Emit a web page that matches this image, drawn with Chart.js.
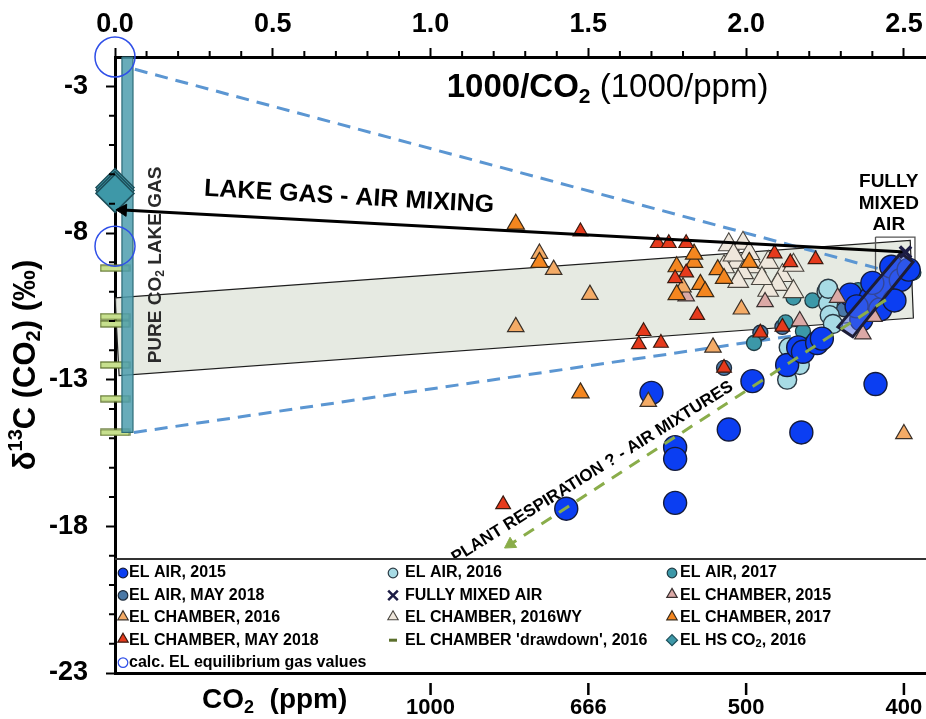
<!DOCTYPE html>
<html><head><meta charset="utf-8">
<script src="https://cdn.jsdelivr.net/npm/chart.js@4.4.1/dist/chart.umd.min.js"></script>
<style>html,body{margin:0;padding:0;background:#fff;}canvas{display:block;}</style>
</head><body>
<canvas id="c" width="926" height="719"></canvas>
<script>
// ---------- tick values / labels ----------
const topTickValues = [0, 0.5, 1.0, 1.5, 2.0, 2.5];
const ppmTickValues = [1.0, 1.5, 2.0, 2.5];
const ppmTickLabels = ['1000', '666', '500', '400'];
const yTickValues = [-23, -18, -13, -8, -3];

// ---------- series (x = 1000/CO2, y = d13C) ----------
const elAir2015 = [[1.43,-17.4],[1.70,-13.45],[1.775,-15.3],[1.775,-15.7],[1.775,-17.2],[2.02,-13.05],[1.945,-14.7],[2.175,-14.8],[2.41,-13.15],[2.13,-12.5],[2.165,-11.9],[2.18,-12.05],[2.225,-11.75],[2.24,-11.6],[2.33,-10.1],[2.365,-10.95],[2.395,-10.2],[2.425,-10.6],[2.435,-9.85],[2.46,-9.15],[2.49,-9.6],[2.47,-10.3],[2.515,-9.25],[2.40,-9.7],[2.35,-10.5]];
const elAir2016 = [[2.13,-13.0],[2.17,-12.5],[2.135,-11.9],[2.255,-10.0],[2.26,-10.4],[2.265,-10.8],[2.275,-11.1],[2.26,-9.9]];
const elAir2017 = [[2.15,-10.2],[2.21,-10.3],[2.355,-9.95],[2.53,-9.35],[2.025,-11.75],[2.125,-11.05],[2.18,-11.35]];
const elAirMay2018 = [[1.93,-12.6],[2.045,-11.4],[2.115,-11.2],[2.31,-10.6],[2.42,-10.1]];
const fullyMixedAir = [[2.505,-8.65]];
const elChamber2015 = [[2.06,-10.35],[2.29,-10.2],[2.17,-11.0],[2.37,-11.45],[2.405,-10.85],[1.81,-10.15]];
const elChamber2016 = [[1.27,-11.2],[1.345,-8.7],[1.39,-9.25],[1.505,-10.1],[1.69,-13.75],[1.895,-11.9],[2.5,-14.85],[1.985,-10.6],[1.80,-9.85]];
const elChamber2016WY = [[1.945,-8.4],[1.99,-8.35],[1.97,-9.0],[2.03,-9.15],[1.99,-9.35],[2.07,-9.0],[2.115,-9.45],[2.15,-9.1],[2.10,-9.75],[2.07,-9.95],[2.15,-10.0],[1.93,-9.15],[1.975,-9.65],[2.01,-8.7],[2.05,-9.55],[1.96,-8.75]];
const elChamber2017 = [[1.27,-7.7],[1.345,-9.0],[1.475,-13.45],[1.78,-9.15],[1.835,-9.0],[1.78,-10.1],[1.855,-9.75],[1.91,-9.25],[1.93,-9.55],[2.01,-9.0],[1.835,-8.72],[1.87,-10.0]];
const elChamberMay2018 = [[1.475,-7.95],[1.23,-17.25],[1.72,-8.35],[1.755,-8.35],[1.81,-8.35],[1.81,-9.35],[1.775,-9.55],[1.845,-10.8],[1.675,-11.35],[1.66,-11.8],[1.73,-11.75],[2.045,-11.4],[2.09,-8.7],[2.14,-9.0],[2.22,-8.9],[2.115,-11.2],[1.93,-12.6]];
const elChamberDrawdown = [[0,-9.2],[0,-10.85],[0,-11.1],[0,-12.5],[0,-13.65],[0,-14.8]];
const elHsCo2 = [[0,-6.45],[0,-6.55],[0,-6.65]];
const calcEquilibrium = [[0,-2.0],[0,-8.45]];

// ---------- guide shapes (data units) ----------
const mixingBand = [[0,-10.21],[2.52,-8.25],[2.53,-10.9],[0.013,-12.86],[0,-10.21]];
const pureCo2Bar = [[0.022,-2.0],[0.057,-2.0],[0.057,-14.8],[0.022,-14.8],[0.022,-2.0]];
const upperDashed = [[0.063,-2.42],[2.46,-9.33]];
const lowerDashed = [[0.06,-14.8],[2.31,-11.25]];
const mixedAirBox = [[2.41,-8.14],[2.535,-8.14],[2.535,-9.5],[2.41,-9.5],[2.41,-8.14]];
const respirationBox = [[2.49,-8.68],[2.529,-8.99],[2.338,-11.54],[2.291,-11.2],[2.49,-8.68]];
const mixingArrow = [[2.505,-8.65],[0.025,-7.22]];
const respirationArrow = [[2.443,-10.28],[1.253,-18.61]];

// ---------- styles ----------
const FF = '"Liberation Sans", Arial, Helvetica, sans-serif';
const fnt = (s, b = true) => (b ? 'bold ' : '') + s + 'px ' + FF;
Chart.defaults.font.family = FF;
Chart.defaults.color = '#000';

const pts = a => a.map(p => ({x: p[0], y: p[1]}));

const ddImg = document.createElement('canvas');
ddImg.width = 31; ddImg.height = 8;
(function(){ const g = ddImg.getContext('2d'); g.fillStyle = '#c7e08e'; g.fillRect(1,1,29,6); g.strokeStyle = '#5b6f2c'; g.lineWidth = 1.2; g.strokeRect(1,1,29,6); })();

const S = {
  'EL AIR, 2015': {type:'circle', r:11.5, fill:'#0b3ef2', stroke:'#141b3a', lw:1.4, order:16},
  'EL AIR, 2016': {type:'circle', r:9.5, fill:'#a7dbe5', stroke:'#2b3a44', lw:1.4, order:17},
  'EL AIR, 2017': {type:'circle', r:7.5, fill:'#3c98a8', stroke:'#1f3c44', lw:1.3, order:18},
  'EL AIR, MAY 2018': {type:'circle', r:7.5, fill:'#4a78a6', stroke:'#1f2c3c', lw:1.3, order:19},
  'FULLY MIXED AIR': {type:'crossRot', r:8, fill:'#1c1c44', stroke:'#1c1c44', lw:3.5, order:1},
  'EL CHAMBER, 2015': {type:'triangle', r:9.5, fill:'#dba9a6', stroke:'#3a3030', lw:1.2, order:14},
  'EL CHAMBER, 2016': {type:'triangle', r:9.5, fill:'#f4ab66', stroke:'#3a3028', lw:1.2, order:13},
  'EL CHAMBER, 2016WY': {type:'triangle', r:12, fill:'#efe7dc', stroke:'#4a4640', lw:1.1, order:15},
  'EL CHAMBER, 2017': {type:'triangle', r:10, fill:'#f4861f', stroke:'#3a2a18', lw:1.2, order:12},
  'EL CHAMBER, MAY 2018': {type:'triangle', r:8.5, fill:'#e63a1c', stroke:'#3a1a10', lw:1.2, order:11},
  "EL CHAMBER 'drawdown', 2016": {type:'line', r:15, fill:'#c7e08e', stroke:'#5b6f2c', lw:3, order:47, img: ddImg},
  'EL HS CO2, 2016': {type:'rectRot', r:19, fill:'#3e98a8', stroke:'#1d4f5a', lw:1.5, order:9},
  'calc. EL equilibrium gas values': {type:'circle', r:20, fill:'rgba(0,0,0,0)', stroke:'#2f4fe8', lw:1.5, order:8}
};

function pointDs(label, data) {
  const s = S[label];
  return {label, data: pts(data), showLine:false, pointStyle: s.img || s.type, pointRadius:s.r, pointHoverRadius:s.r,
    pointBackgroundColor:s.fill, pointBorderColor:s.stroke, pointBorderWidth:s.lw,
    backgroundColor:s.fill, borderColor:s.stroke, order:s.order, clip:false};
}
function shapeDs(label, data, o) {
  return Object.assign({label, data: pts(data), showLine:true, pointRadius:0, pointHoverRadius:0, tension:0, fill:false, clip:false}, o);
}

const datasets = [
  shapeDs('band', mixingBand, {fill:'shape', backgroundColor:'rgba(226,230,221,0.85)', borderColor:'#1e1e1e', borderWidth:1.2, order:50}),
  pointDs("EL CHAMBER 'drawdown', 2016", elChamberDrawdown),
  shapeDs('bar', pureCo2Bar, {fill:'shape', backgroundColor:'rgba(78,158,174,0.85)', borderColor:'#2c6b78', borderWidth:1.2, order:45}),
  shapeDs('upperDash', upperDashed, {borderColor:'#5b96d2', borderWidth:3, borderDash:[13,8], order:40}),
  shapeDs('lowerDash', lowerDashed, {borderColor:'#5b96d2', borderWidth:3, borderDash:[13,8], order:40}),
  shapeDs('box', mixedAirBox, {borderColor:'#555', borderWidth:1.3, order:30}),
  pointDs('EL AIR, 2015', elAir2015),
  pointDs('EL AIR, 2016', elAir2016),
  pointDs('EL AIR, 2017', elAir2017),
  pointDs('EL AIR, MAY 2018', elAirMay2018),
  pointDs('EL CHAMBER, 2015', elChamber2015),
  pointDs('EL CHAMBER, 2016', elChamber2016),
  pointDs('EL CHAMBER, 2016WY', elChamber2016WY),
  pointDs('EL CHAMBER, 2017', elChamber2017),
  pointDs('EL CHAMBER, MAY 2018', elChamberMay2018),
  pointDs('EL HS CO2, 2016', elHsCo2),
  pointDs('calc. EL equilibrium gas values', calcEquilibrium),
  shapeDs('respBox', respirationBox, {fill:'shape', backgroundColor:'rgba(75,105,228,0.55)', borderColor:'#1d1d36', borderWidth:3, order:6}),
  shapeDs('mixArrow', mixingArrow, {borderColor:'#000', borderWidth:3, order:4}),
  {label:'mixHead', data: pts([mixingArrow[1]]), showLine:false, pointStyle:'triangle', pointRadius:7, pointRotation:-87, pointBackgroundColor:'#000', pointBorderColor:'#000', pointBorderWidth:1, order:3, clip:false},
  shapeDs('respArrow', respirationArrow, {borderColor:'#8aad4a', borderWidth:3, borderDash:[12,9], order:4}),
  {label:'respHead', data: pts([respirationArrow[1]]), showLine:false, pointStyle:'triangle', pointRadius:7, pointRotation:-123, pointBackgroundColor:'#8aad4a', pointBorderColor:'#8aad4a', pointBorderWidth:1, order:3, clip:false},
  pointDs('FULLY MIXED AIR', fullyMixedAir)
];

const legendLabels = ['EL AIR, 2015','EL AIR, 2016','EL AIR, 2017','EL AIR, MAY 2018','FULLY MIXED AIR','EL CHAMBER, 2015','EL CHAMBER, 2016','EL CHAMBER, 2016WY','EL CHAMBER, 2017','EL CHAMBER, MAY 2018',"EL CHAMBER 'drawdown', 2016",'EL HS CO2, 2016','calc. EL equilibrium gas values'];

// ---------- drawing helpers ----------
function drawRich(ctx, parts, x, y, align, rot) {
  ctx.save();
  ctx.translate(x, y);
  if (rot) ctx.rotate(rot * Math.PI / 180);
  ctx.textBaseline = 'middle'; ctx.textAlign = 'left';
  let w = 0;
  for (const p of parts) { ctx.font = p.f; p.w = ctx.measureText(p.t).width; w += p.w; }
  let cx = align === 'center' ? -w / 2 : (align === 'right' ? -w : 0);
  for (const p of parts) { ctx.font = p.f; ctx.fillStyle = p.c || '#000'; ctx.fillText(p.t, cx, p.dy || 0); cx += p.w; }
  ctx.restore();
}
function subParts(text, size, subSize, dy) {
  const i = text.indexOf('CO2');
  if (i < 0) return [{t:text, f:fnt(size)}];
  return [{t:text.slice(0, i + 2), f:fnt(size)}, {t:'2', f:fnt(subSize), dy}, {t:text.slice(i + 3), f:fnt(size)}];
}
function marker(ctx, s, x, y, r) {
  ctx.save(); ctx.beginPath();
  const t = s.type;
  if (t === 'circle') ctx.arc(x, y, r, 0, Math.PI * 2);
  else if (t === 'triangle') { ctx.moveTo(x, y - r); ctx.lineTo(x + r * 0.866, y + r * 0.5); ctx.lineTo(x - r * 0.866, y + r * 0.5); ctx.closePath(); }
  else if (t === 'rectRot') { ctx.moveTo(x - r, y); ctx.lineTo(x, y - r); ctx.lineTo(x + r, y); ctx.lineTo(x, y + r); ctx.closePath(); }
  else if (t === 'crossRot') { ctx.moveTo(x - r, y - r); ctx.lineTo(x + r, y + r); ctx.moveTo(x + r, y - r); ctx.lineTo(x - r, y + r); }
  else if (t === 'line') { ctx.moveTo(x - r, y); ctx.lineTo(x + r, y); }
  if (t !== 'crossRot' && t !== 'line') { ctx.fillStyle = s.fill; ctx.fill(); }
  ctx.strokeStyle = t === 'line' ? '#5b6f2c' : s.stroke;
  ctx.lineWidth = t === 'crossRot' ? 2.5 : (t === 'line' ? 3 : Math.min(s.lw, 1.2));
  if (t === 'crossRot') ctx.strokeStyle = '#1c1c44';
  ctx.stroke();
  ctx.restore();
}
const noPad = s => { s.paddingLeft = 0; s.paddingRight = 0; s.paddingTop = 0; s.paddingBottom = 0; };

const decor = {
  id: 'decor',
  afterDraw(chart) {
    const {ctx, chartArea: a, scales} = chart;
    const X = v => scales.x.getPixelForValue(v), Y = v => scales.y.getPixelForValue(v);
    ctx.save();
    // minor ticks
    ctx.strokeStyle = '#000'; ctx.lineWidth = 2;
    ctx.beginPath();
    for (let i = 1; i <= 25; i++) { if (i % 5 === 0) continue; const px = X(i / 10); ctx.moveTo(px, a.top); ctx.lineTo(px, a.top - 6); }
    for (let v = -22; v < -2; v++) { if ((v + 23) % 5 === 0) continue; const py = Y(v); ctx.moveTo(a.left, py); ctx.lineTo(a.left - 6, py); }
    ctx.stroke();
    // small detached ticks above ppm labels
    ctx.beginPath(); ctx.lineWidth = 2.5;
    for (const v of ppmTickValues) { const px = X(v); ctx.moveTo(px, a.bottom + 10); ctx.lineTo(px, a.bottom + 22); }
    ctx.stroke();

    // annotation texts
    drawRich(ctx, [{t:'1000/CO', f:fnt(33)}, {t:'2', f:fnt(21), dy:9}, {t:' (1000/ppm)', f:fnt(33, false)}], X(1.561), Y(-3.07), 'center', 0);
    drawRich(ctx, [{t:'LAKE GAS - AIR MIXING', f:fnt(25)}], X(0.742), Y(-6.78), 'center', 3.3);
    drawRich(ctx, [{t:'FULLY', f:fnt(19)}], X(2.452), Y(-6.27), 'center', 0);
    drawRich(ctx, [{t:'MIXED', f:fnt(19)}], X(2.452), Y(-7.01), 'center', 0);
    drawRich(ctx, [{t:'AIR', f:fnt(19)}], X(2.452), Y(-7.73), 'center', 0);
    drawRich(ctx, [{t:'PURE CO', f:fnt(19), c:'#2a2a2a'}, {t:'2', f:fnt(12), dy:5, c:'#2a2a2a'}, {t:' LAKE GAS', f:fnt(19), c:'#2a2a2a'}], X(0.13), Y(-9.09), 'center', -90);
    drawRich(ctx, [{t:'PLANT RESPIRATION ? - AIR MIXTURES', f:fnt(17)}], X(1.513), Y(-16.16), 'center', -32);

    // axis titles
    drawRich(ctx, [{t:'δ', f:fnt(31)}, {t:'13', f:fnt(20), dy:-10}, {t:'C (CO', f:fnt(31)}, {t:'2', f:fnt(20), dy:8}, {t:') (‰)', f:fnt(31)}], 26, (a.top + a.bottom) / 2, 'center', -90);
    drawRich(ctx, [{t:'CO', f:fnt(28)}, {t:'2', f:fnt(18), dy:8}, {t:'  (ppm)', f:fnt(28)}], 202, a.bottom + 27, 'left', 0);

    // legend box inside plot
    const top = a.bottom - 114;
    ctx.fillStyle = '#fff';
    ctx.fillRect(a.left + 2, top, a.right - a.left - 2, a.bottom - 2 - top);
    ctx.strokeStyle = '#333'; ctx.lineWidth = 2;
    ctx.beginPath(); ctx.moveTo(a.left, top); ctx.lineTo(a.right, top); ctx.stroke();
    const textX = [a.left + 14, a.left + 290, a.left + 565];
    const markX = [a.left + 8, a.left + 278, a.left + 557];
    legendLabels.forEach((lab, i) => {
      const col = i % 3, row = Math.floor(i / 3);
      const yy = a.bottom - 100 + row * 22.4;
      const s = S[lab];
      const r = s.type === 'triangle' ? 6 : (s.type === 'rectRot' ? 5.5 : (s.type === 'line' ? 4 : 4.8));
      marker(ctx, s, markX[col], yy - (s.type === 'triangle' ? 1 : 0), r);
      drawRich(ctx, subParts(lab, 16, 11, 4), textX[col], yy, 'left', 0);
    });
    ctx.restore();
  }
};

new Chart(document.getElementById('c'), {
  type: 'scatter',
  data: {datasets},
  options: {
    responsive: false, animation: false, devicePixelRatio: 1, events: [],
    layout: {padding: 0, autoPadding: false},
    plugins: {legend: {display: false}, tooltip: {enabled: false}},
    scales: {
      x: {
        type: 'linear', position: 'top', min: 0, max: 2.57,
        afterBuildTicks: s => { s.ticks = topTickValues.map(v => ({value: v})); },
        afterFit: s => { s.height = 57; noPad(s); },
        ticks: {font: {size: 27, weight: 'bold'}, color: '#000', padding: 7, maxRotation: 0, autoSkip: false, callback: v => Number(v).toFixed(1)},
        grid: {drawOnChartArea: false, drawTicks: true, tickLength: 9, tickWidth: 2, tickColor: '#000'},
        border: {display: true, color: '#000', width: 3}
      },
      x2: {
        type: 'linear', position: 'bottom', min: 0, max: 2.57,
        afterBuildTicks: s => { s.ticks = ppmTickValues.map(v => ({value: v})); },
        afterFit: s => { s.height = 46; noPad(s); },
        ticks: {font: {size: 22, weight: 'bold'}, color: '#000', padding: 22, maxRotation: 0, autoSkip: false, callback: v => ppmTickLabels[ppmTickValues.indexOf(Number(v))]},
        grid: {drawOnChartArea: false, drawTicks: false},
        border: {display: true, color: '#000', width: 3}
      },
      y: {
        type: 'linear', position: 'left', min: -23, max: -2,
        afterBuildTicks: s => { s.ticks = yTickValues.map(v => ({value: v})); },
        afterFit: s => { s.width = 115; noPad(s); },
        ticks: {font: {size: 27, weight: 'bold'}, color: '#000', padding: 18, autoSkip: false, callback: v => String(v)},
        grid: {drawOnChartArea: false, drawTicks: true, tickLength: 9, tickWidth: 2, tickColor: '#000'},
        border: {display: true, color: '#000', width: 3}
      }
    }
  },
  plugins: [decor]
});
</script>
</body></html>
